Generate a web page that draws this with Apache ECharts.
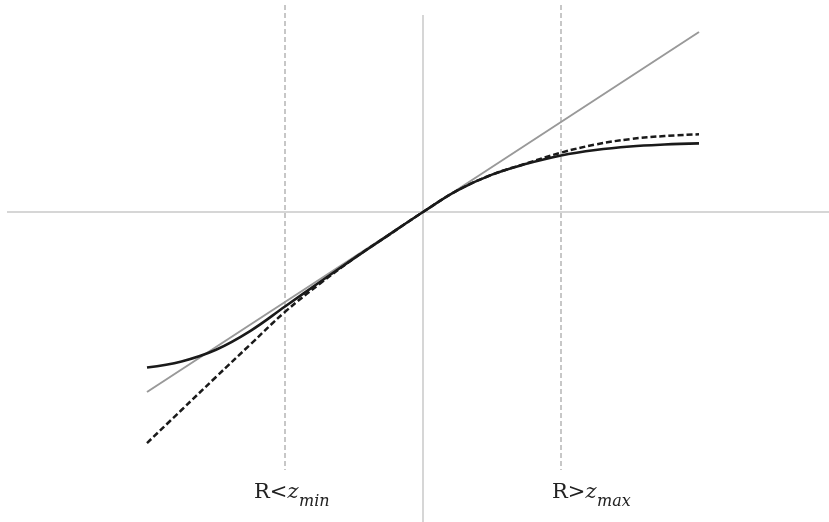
<!DOCTYPE html>
<html>
<head>
<meta charset="utf-8">
<script src="https://cdn.jsdelivr.net/npm/echarts@6/dist/echarts.min.js"></script>
<style>
  html, body { margin: 0; padding: 0; background: #fff; }
  #chart { width: 829px; height: 522px; }
</style>
</head>
<body>
<div id="chart"></div>
<script>
// x in units of the z range (zmin = -1, zmax = 1), y on the same scale as the identity line
const xs = [-2, -1.75, -1.5, -1.25, -1, -0.75, -0.5, -0.25, 0, 0.25, 0.5, 0.75, 1, 1.25, 1.5, 1.75, 2];
const solidY = [-1.728, -1.66, -1.53, -1.32, -1.05, -0.78, -0.515, -0.257, 0, 0.24, 0.415, 0.535, 0.628, 0.689, 0.728, 0.75, 0.763];
const dashedY = [-2.567, -2.2, -1.833, -1.47, -1.11, -0.8, -0.515, -0.257, 0, 0.24, 0.415, 0.54, 0.659, 0.75, 0.81, 0.844, 0.863];
const identityX = [-2, 2];
const zLimits = [-1, 1];
const zLabels = [['R<', 'z', 'min'], ['R>', 'z', 'max']];

const xMin = -3.0145, xMax = 2.942;
const yMin = -3.4444, yMax = 2.3;

const pairs = (a, b) => a.map((v, i) => [v, b[i]]);

let chartDom = document.getElementById('chart');
let myChart = echarts.init(chartDom);

const series = [
  { // horizontal axis
    type: 'line', symbol: 'none', silent: true,
    data: [[xMin, 0], [xMax, 0]],
    lineStyle: { color: '#c8c8c8', width: 1.5 }
  },
  { // vertical axis
    type: 'line', symbol: 'none', silent: true,
    data: [[0, 2.189], [0, yMin]],
    lineStyle: { color: '#c8c8c8', width: 1.5 }
  }
];
zLimits.forEach(z => {
  series.push({
    type: 'line', symbol: 'none', silent: true,
    data: [[z, yMax], [z, -2.867]],
    lineStyle: { color: '#b4b4b4', width: 1.5, type: [5, 3] }
  });
});
series.push({
  type: 'line', symbol: 'none',
  data: identityX.map(v => [v, v]),
  lineStyle: { color: '#999999', width: 2 }
});
series.push({
  type: 'line', symbol: 'none', smooth: 0.4,
  data: pairs(xs, dashedY),
  lineStyle: { color: '#1a1a1a', width: 2.5, type: [6, 3] }
});
series.push({
  type: 'line', symbol: 'none', smooth: 0.4,
  data: pairs(xs, solidY),
  lineStyle: { color: '#1a1a1a', width: 2.6 }
});

const labelLeft = [254, 552];
const graphic = [];
zLabels.forEach((lab, i) => {
  graphic.push({
    type: 'text', left: labelLeft[i], top: 482,
    style: {
      text: '{a|' + lab[0] + '}{b|' + lab[1] + '}',
      rich: {
        a: { fontFamily: 'DejaVu Serif', fontSize: 21, fill: '#222' },
        b: { fontFamily: 'DejaVu Serif', fontStyle: 'italic', fontSize: 21, fill: '#222' }
      }
    }
  });
  graphic.push({
    type: 'text', left: labelLeft[i] + 45, top: 494,
    style: {
      text: lab[2],
      fontFamily: 'DejaVu Serif', fontStyle: 'italic', fontSize: 16, fill: '#222'
    }
  });
});

let option = {
  animation: false,
  grid: { left: 7, right: 0, top: 5, bottom: 0 },
  xAxis: { type: 'value', min: xMin, max: xMax, show: false },
  yAxis: { type: 'value', min: yMin, max: yMax, show: false },
  series: series,
  graphic: graphic
};
option && myChart.setOption(option);
</script>
</body>
</html>
